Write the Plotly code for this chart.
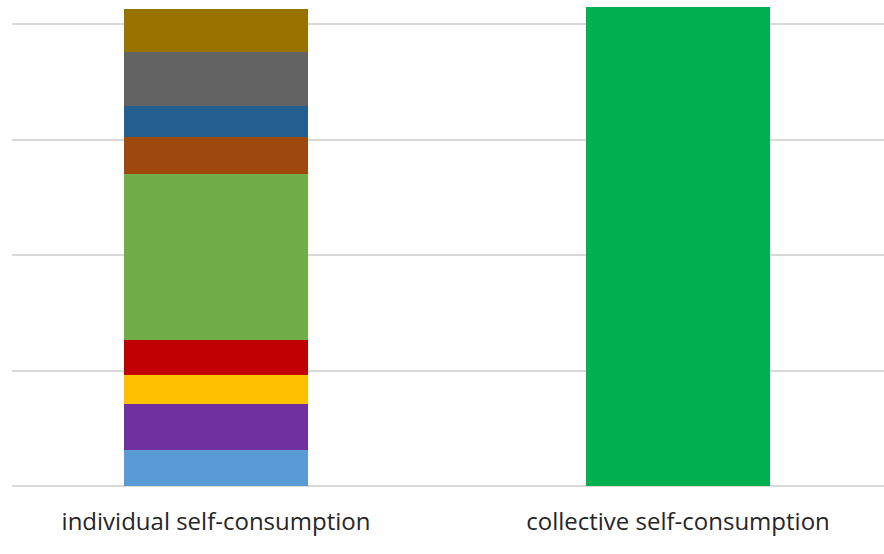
import plotly.graph_objects as go

categories = ["individual self-consumption", "collective self-consumption"]

# stacked segments of the individual bar (bottom to top)
segment_names = ["s1", "s2", "s3", "s4", "s5", "s6", "s7", "s8", "s9"]
segment_values = [6.2, 8.0, 5.1, 6.0, 28.7, 6.5, 5.3, 9.4, 7.5]
segment_colors = ["#5B9BD5", "#7030A0", "#FFC000", "#C00000", "#70AD47",
                  "#9E480E", "#255E91", "#636363", "#997300"]

collective_value = 83.0
collective_color = "#00B050"

fig = go.Figure()
for name, v, c in zip(segment_names, segment_values, segment_colors):
    fig.add_trace(go.Bar(x=[categories[0]], y=[v], name=name,
                         marker=dict(color=c, line=dict(width=0))))
fig.add_trace(go.Bar(x=[categories[1]], y=[collective_value], name="collective",
                     marker=dict(color=collective_color, line=dict(width=0))))

fig.update_layout(
    barmode="stack",
    bargap=0.6,
    width=884, height=554,
    margin=dict(l=12, r=0, t=1, b=68),
    plot_bgcolor="white", paper_bgcolor="white",
    showlegend=False,
    xaxis=dict(range=[-0.4416, 1.4459], showgrid=False, showline=False,
               ticks="", ticklabelstandoff=19,
               tickfont=dict(family="Open Sans", size=24, color="#262626")),
    yaxis=dict(range=[0, 84], dtick=20, showgrid=True, gridcolor="#D9D9D9",
               gridwidth=2, zeroline=True, zerolinecolor="#D9D9D9",
               zerolinewidth=2, showticklabels=False, ticks=""),
)
fig.write_html("out.html")
